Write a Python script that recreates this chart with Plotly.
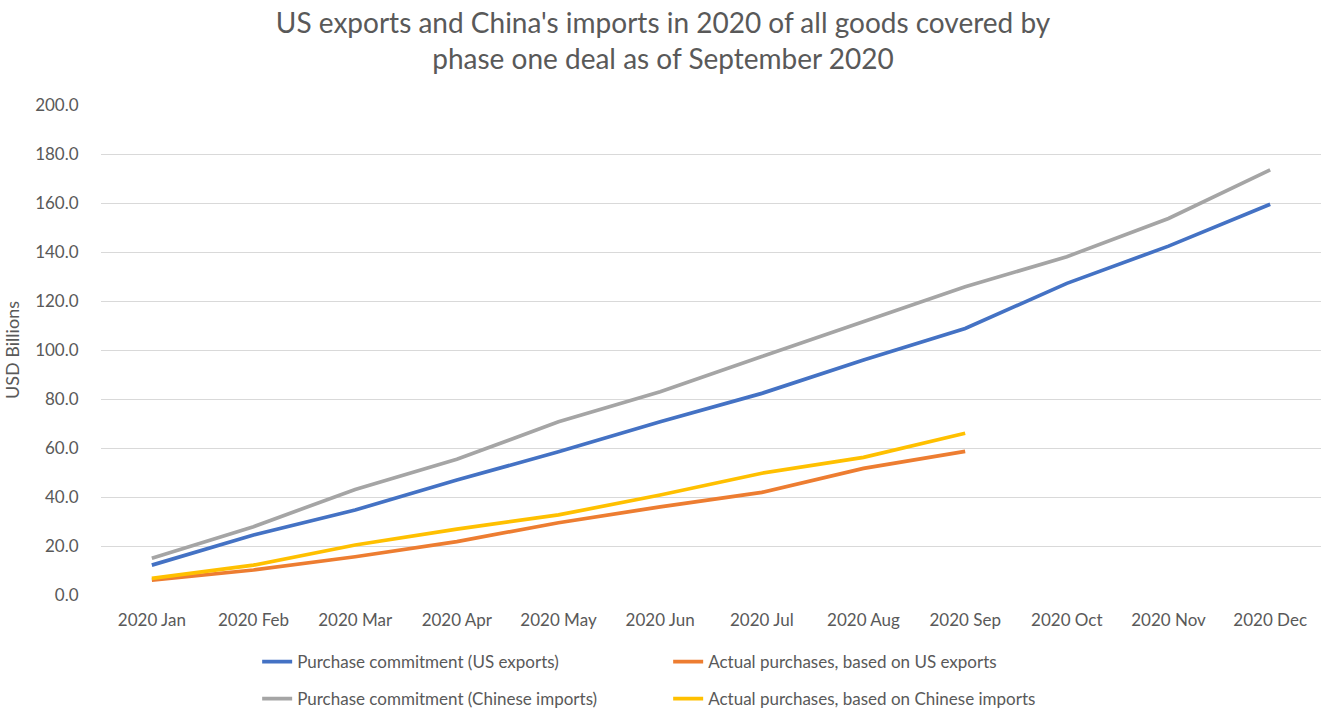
import plotly.graph_objects as go

months = ["2020 Jan", "2020 Feb", "2020 Mar", "2020 Apr", "2020 May", "2020 Jun",
          "2020 Jul", "2020 Aug", "2020 Sep", "2020 Oct", "2020 Nov", "2020 Dec"]

commit_us = [12.2, 24.5, 34.7, 46.9, 58.5, 70.7, 82.3, 95.9, 108.8, 127.2, 142.4, 159.5]
actual_us = [6.1, 10.2, 15.6, 21.8, 29.5, 36.0, 41.9, 51.7, 58.6]
commit_cn = [15.0, 27.9, 43.1, 55.4, 70.7, 83.0, 97.3, 111.6, 125.8, 138.1, 153.7, 173.5]
actual_cn = [6.8, 12.2, 20.4, 26.9, 32.7, 40.8, 49.7, 56.2, 66.0]

names = ["Purchase commitment (US exports)", "Actual purchases, based on US exports",
         "Purchase commitment (Chinese imports)", "Actual purchases, based on Chinese imports"]
colors = ["#4472C4", "#ED7D31", "#A5A5A5", "#FFC000"]

FONT = "Lato, Carlito, Calibri, Arial, sans-serif"
TXT = "#595959"

fig = go.Figure()
series = [commit_us, actual_us, commit_cn, actual_cn]
legends = ["legend", "legend", "legend2", "legend2"]
for s, n, c, lg in zip(series, names, colors, legends):
    fig.add_trace(go.Scatter(x=months[:len(s)], y=s, name=n, mode="lines",
                             line=dict(color=c, width=3.7), legend=lg))

legend_common = dict(orientation="h", xref="paper", yref="container",
                     x=0.128, xanchor="left", yanchor="middle",
                     font=dict(family=FONT, size=17, color=TXT),
                     entrywidth=366, entrywidthmode="pixels",
                     bgcolor="rgba(0,0,0,0)", itemwidth=30)

fig.update_layout(
    width=1326, height=710,
    margin=dict(l=101, r=5, t=105, b=115),
    paper_bgcolor="white", plot_bgcolor="white",
    font=dict(family=FONT, color=TXT),
    title=dict(text="US exports and China's imports in 2020 of all goods covered by<br>phase one deal as of September 2020",
               x=0.5, xanchor="center", y=1 - 33 / 710, yanchor="top", yref="container",
               font=dict(family=FONT, size=28, color=TXT)),
    legend=dict(**legend_common, y=1 - 662 / 710),
    legend2=dict(**legend_common, y=1 - 699 / 710),
    xaxis=dict(type="category", range=[-0.5, 11.5], showgrid=False, showline=False,
               zeroline=False, ticks="outside", ticklen=10, tickcolor="rgba(0,0,0,0)",
               tickfont=dict(family=FONT, size=17, color=TXT)),
    yaxis=dict(range=[0, 200], dtick=20, tickformat=".1f", showgrid=True,
               gridcolor="#D9D9D9", gridwidth=1, zeroline=False, showline=False,
               ticks="outside", ticklen=18, tickcolor="rgba(0,0,0,0)",
               tickfont=dict(family=FONT, size=17, color=TXT),
               title=dict(text="USD Billions", standoff=10,
                          font=dict(family=FONT, size=18, color=TXT))),
)

fig.write_html("out.html")
